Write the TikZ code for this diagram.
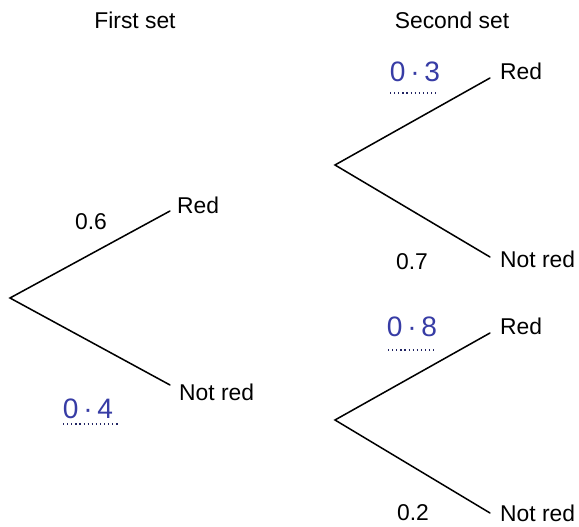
\documentclass[tikz,border=0pt]{standalone}
\usepackage{fontspec}
\setmainfont{Liberation Sans}
\definecolor{inkblue}{RGB}{55,60,165}
\tikzset{
	branch/.style={line width=1.3pt,line cap=round},
	outcome/.style={anchor=west,inner sep=0pt,font=\fontsize{19.5}{22}\selectfont},
	prob/.style={inner sep=0pt,font=\fontsize{19.5}{22}\selectfont},
	written/.style={inner sep=0pt,text=inkblue,font=\fontsize{24}{26}\selectfont},
	answerline/.style={line width=1.1pt,inkblue!60!black,dash pattern=on 1.1pt off 2.4pt}
}
\begin{document}
\begin{tikzpicture}[x=0.03cm,y=0.03cm]
		\useasboundingbox (0,0) rectangle (579,527);
		% first set
		\coordinate (A) at (10,229);
		\coordinate (AR) at (170,316);
		\coordinate (AN) at (170,142);
		% second set, after red
		\coordinate (B) at (335,362);
		\coordinate (BR) at (490,449);
		\coordinate (BN) at (490,270);
		% second set, after not red
		\coordinate (C) at (335,107);
		\coordinate (CR) at (490,194);
		\coordinate (CN) at (490,14);
		\draw [branch] (AR) -- (A) -- (AN);
		\draw [branch] (BR) -- (B) -- (BN);
		\draw [branch] (CR) -- (C) -- (CN);
		\node[prob] (head1) at (135,507) {First set};
		\node[prob] (head2) at (452,507) {Second set};
		\node[outcome] (aR) at (177,322) {Red};
		\node[outcome] (aN) at (179,135) {Not red};
		\node[outcome] (bR) at (500,456) {Red};
		\node[outcome] (bN) at (500,268) {Not red};
		\node[outcome] (cR) at (500,201) {Red};
		\node[outcome] (cN) at (500,14) {Not red};
		\node[prob] (p6) at (91,305) {0.6};
		\node[prob] (p7) at (412,265) {0.7};
		\node[prob] (p2) at (413,14) {0.2};
		\node[written] (p4) at (88,118) {0\,·\,4};
		\node[written] (p3) at (415,455) {0\,·\,3};
		\node[written] (p8) at (412,200) {0\,·\,8};
		\coordinate (d4a) at (63,103);
		\coordinate (d4b) at (118,103);
		\coordinate (d3a) at (390,434);
		\coordinate (d3b) at (438,434);
		\coordinate (d8a) at (388,177);
		\coordinate (d8b) at (437,177);
		\draw [answerline] (d4a) -- (d4b);
		\draw [answerline] (d3a) -- (d3b);
		\draw [answerline] (d8a) -- (d8b);
	\end{tikzpicture}
\end{document}
